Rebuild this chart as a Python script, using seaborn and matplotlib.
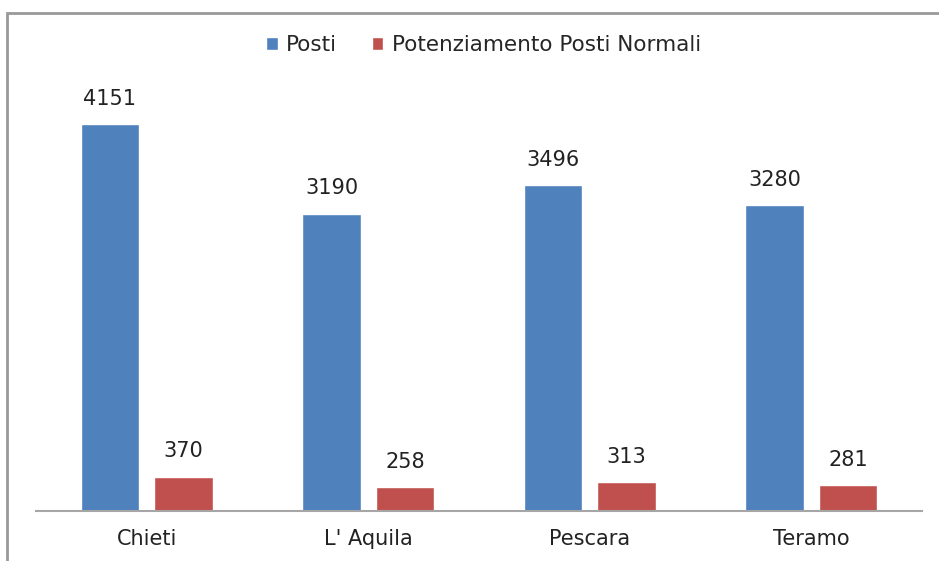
import matplotlib
matplotlib.use('Agg')
import matplotlib.pyplot as plt
import seaborn as sns
import pandas as pd
from matplotlib.patches import Rectangle

province = ['Chieti', "L' Aquila", 'Pescara', 'Teramo']
posti = [4151, 3190, 3496, 3280]
potenziamento = [370, 258, 313, 281]
serie = ['Posti', 'Potenziamento Posti Normali']
colori = ['#4F81BD', '#C0504D']

df = pd.DataFrame({
    'provincia': province * 2,
    'valore': posti + potenziamento,
    'serie': [serie[0]] * 4 + [serie[1]] * 4,
})

sns.set_style('white')
plt.rcParams['font.family'] = ['DejaVu Sans']

fig = plt.figure(figsize=(9.39, 5.61), dpi=100)
ax = fig.add_axes([36 / 939, 1 - 511 / 561, 886 / 939, 451 / 561])

sns.barplot(data=df, x='provincia', y='valore', hue='serie', palette=colori,
            width=0.664, gap=0.2, ax=ax, saturation=1, legend=True)

for c in ax.containers:
    ax.bar_label(c, padding=11, fontsize=15, color='#222222')

ax.set_ylim(0, 4840)
ax.set_xlim(-0.5, 3.5)
ax.set_xlabel('')
ax.set_ylabel('')
ax.set_yticks([])
ax.tick_params(axis='x', length=0, labelsize=15, pad=13, colors='#222222')
for s in ['top', 'right', 'left']:
    ax.spines[s].set_visible(False)
ax.spines['bottom'].set_color('#a6a6a6')
ax.spines['bottom'].set_linewidth(1.5)

h, l = ax.get_legend_handles_labels()
ax.legend(h, l, loc='center', bbox_to_anchor=(0.505, (511 - 45) / 451), ncol=2,
          frameon=False, handlelength=0.55, handleheight=0.55, handletextpad=0.4,
          columnspacing=1.6, prop={'size': 15.5})

fig.patches.append(Rectangle((7 / 939, -0.1), 1.2, 1 - 13 / 561 + 0.1,
                             transform=fig.transFigure, fill=False,
                             edgecolor='#999999', linewidth=2))

fig.savefig('out.png', dpi=100)
